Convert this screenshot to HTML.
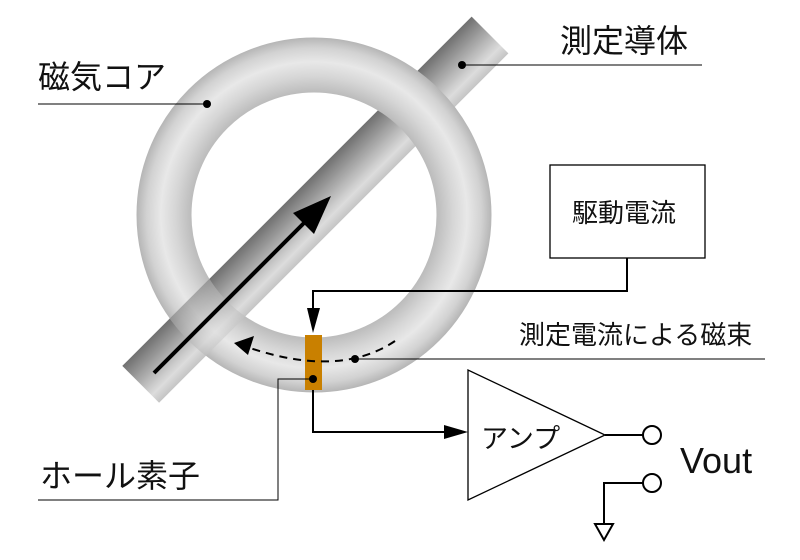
<!DOCTYPE html>
<html><head><meta charset="utf-8"><style>
html,body{margin:0;padding:0;background:#fff;}
svg{display:block;}
text{font-family:"Liberation Sans","Noto Sans CJK JP",sans-serif;fill:#111;}
</style></head><body>
<svg width="800" height="560" viewBox="0 0 800 560" xmlns="http://www.w3.org/2000/svg">
<defs>
<radialGradient id="ring" cx="314" cy="215" r="178" gradientUnits="userSpaceOnUse">
<stop offset="0.69" stop-color="#bcbcbc"/>
<stop offset="0.78" stop-color="#d6d6d6"/>
<stop offset="0.86" stop-color="#e8e8e8"/>
<stop offset="0.94" stop-color="#d2d2d2"/>
<stop offset="1" stop-color="#b4b4b4"/>
</radialGradient>
<linearGradient id="bar" x1="-26" y1="0" x2="26" y2="0" gradientUnits="userSpaceOnUse">
<stop offset="0" stop-color="#707070"/>
<stop offset="0.5" stop-color="#b4b4b4"/>
<stop offset="0.8" stop-color="#dcdcdc"/>
<stop offset="1" stop-color="#c4c4c4"/>
</linearGradient>
<clipPath id="low"><rect x="0" y="250" width="330" height="250"/></clipPath>
<clipPath id="ann"><path clip-rule="evenodd" d="M314,37.5a177.5,177.5 0 1,0 0.01,0Z M314,92.5a122.5,122.5 0 1,0 0.01,0Z"/></clipPath>
</defs>
<g transform="translate(490,35) rotate(45)">
<rect x="-26" y="0" width="52" height="494" fill="url(#bar)"/>
</g>
<circle cx="314" cy="215" r="150" fill="none" stroke="url(#ring)" stroke-width="55"/>
<g clip-path="url(#low)">
<g clip-path="url(#ann)" opacity="0.5">
<g transform="translate(490,35) rotate(45)">
<rect x="-26" y="0" width="52" height="494" fill="url(#bar)"/>
</g>
</g>
</g>
<line x1="154" y1="373" x2="310" y2="217" stroke="#000" stroke-width="4"/>
<polygon points="331,196 293,213 314,234" fill="#000"/>
<rect x="305" y="335" width="17" height="55" fill="#c98000"/>
<path d="M395,341 Q340,378 250,348" fill="none" stroke="#000" stroke-width="2" stroke-dasharray="8,6"/>
<polygon points="234,343 254,336 248,355" fill="#000"/>
<circle cx="355" cy="359" r="4" fill="#000"/>
<line x1="355" y1="359" x2="765" y2="359" stroke="#000" stroke-width="1"/>
<text x="519" y="344" font-size="26">測定電流による磁束</text>
<rect x="550" y="165" width="155" height="93" fill="#fff" stroke="#000" stroke-width="1.3"/>
<text x="572" y="222" font-size="26">駆動電流</text>
<polyline points="627,258 627,291 313,291 313,312" fill="none" stroke="#000" stroke-width="2"/>
<polygon points="307,308 320,308 313,333" fill="#000"/>
<circle cx="313" cy="379" r="4" fill="#000"/>
<polyline points="313,379 278,379 278,500 38,500" fill="none" stroke="#000" stroke-width="1"/>
<text x="40" y="487" font-size="32">ホール素子</text>
<polyline points="313,390 313,432 450,432" fill="none" stroke="#000" stroke-width="2"/>
<polygon points="468,432 444,425 444,439" fill="#000"/>
<polygon points="468,370 468,500 605,435" fill="#fff" stroke="#000" stroke-width="1.3"/>
<text x="481" y="448" font-size="27">アンプ</text>
<line x1="605" y1="435" x2="643" y2="435" stroke="#000" stroke-width="2"/>
<circle cx="652" cy="435" r="9" fill="#fff" stroke="#000" stroke-width="2"/>
<circle cx="652" cy="483" r="9" fill="#fff" stroke="#000" stroke-width="2"/>
<polyline points="643,483 604,483 604,524" fill="none" stroke="#000" stroke-width="2"/>
<polygon points="595,524 613,524 604,540" fill="#fff" stroke="#000" stroke-width="2"/>
<text x="680" y="473" font-size="36">Vout</text>
<text x="38" y="88" font-size="32">磁気コア</text>
<line x1="38" y1="104" x2="207" y2="104" stroke="#000" stroke-width="1"/>
<circle cx="207" cy="104" r="4" fill="#000"/>
<text x="560" y="52" font-size="32">測定導体</text>
<line x1="462" y1="65" x2="702" y2="65" stroke="#000" stroke-width="1"/>
<circle cx="462" cy="65" r="4" fill="#000"/>
</svg>
</body></html>
